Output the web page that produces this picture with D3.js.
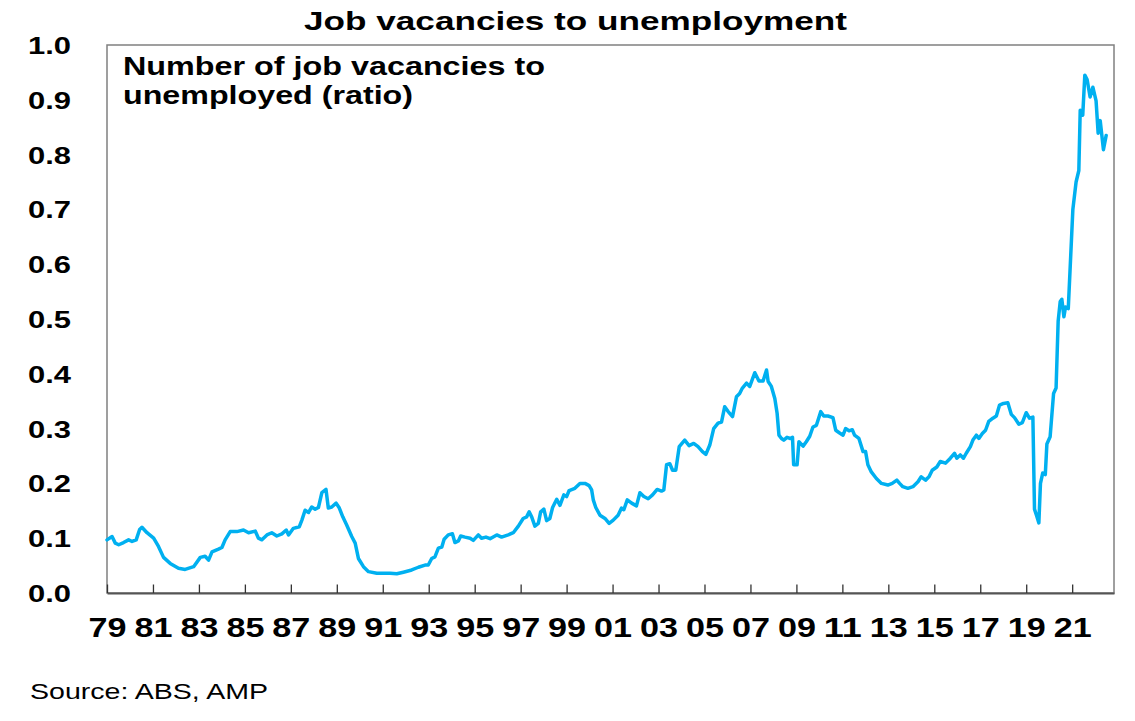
<!DOCTYPE html>
<html>
<head>
<meta charset="utf-8">
<script src="https://cdn.jsdelivr.net/npm/d3@7"></script>
<style>
  body { margin: 0; background: #fff; }
  text { font-family: "Liberation Sans", Arial, sans-serif; fill: #000; }
</style>
</head>
<body>
<div class="chart"></div>
<script>
// time position (decimal year as placed on the axis) and ratio
var years = [
  1979.00, 1979.22, 1979.36, 1979.51, 1979.72, 1979.94, 1980.09, 1980.27, 1980.42, 1980.52,
  1980.74, 1981.03, 1981.24, 1981.46, 1981.75, 1982.11, 1982.40, 1982.77, 1983.06, 1983.27,
  1983.42, 1983.57, 1983.85, 1984.00, 1984.14, 1984.36, 1984.65, 1984.94, 1985.16, 1985.45,
  1985.59, 1985.74, 1985.96, 1986.17, 1986.39, 1986.61, 1986.80, 1986.90, 1987.11, 1987.37,
  1987.48, 1987.62, 1987.77, 1987.91, 1988.06, 1988.20, 1988.35, 1988.53, 1988.63, 1988.78,
  1988.97, 1989.11, 1989.26, 1989.43, 1989.65, 1989.80, 1989.94, 1990.16, 1990.38, 1990.74,
  1991.03, 1991.32, 1991.61, 1991.90, 1992.26, 1992.55, 1992.84,
  1992.98, 1993.13, 1993.27, 1993.42, 1993.57, 1993.67, 1993.85, 1994.03, 1994.14, 1994.29,
  1994.39, 1994.58, 1994.80, 1994.94, 1995.16, 1995.30, 1995.49, 1995.67, 1995.96, 1996.17,
  1996.46, 1996.68, 1996.90, 1997.11, 1997.26, 1997.37, 1997.48, 1997.62, 1997.77, 1997.87,
  1998.01, 1998.13, 1998.27, 1998.39, 1998.57, 1998.71, 1998.88, 1999.00, 1999.11, 1999.36,
  1999.58, 1999.80, 1999.98, 2000.09, 2000.16, 2000.27, 2000.45, 2000.67, 2000.85, 2001.03,
  2001.24, 2001.39, 2001.49, 2001.64, 2001.83, 2002.04, 2002.19, 2002.36, 2002.55, 2002.74,
  2002.94, 2003.13, 2003.23, 2003.35, 2003.49, 2003.61, 2003.75, 2003.90, 2004.14, 2004.33,
  2004.53, 2004.72, 2004.91, 2005.06,
  2005.23, 2005.40, 2005.59, 2005.74, 2005.88, 2006.03, 2006.22, 2006.39, 2006.53, 2006.65,
  2006.83, 2006.97, 2007.19, 2007.37, 2007.55, 2007.70, 2007.77, 2007.91, 2008.06, 2008.16,
  2008.24, 2008.35, 2008.45, 2008.59, 2008.74, 2008.83, 2008.88, 2009.03, 2009.11, 2009.29,
  2009.43, 2009.58, 2009.72, 2009.87, 2010.06, 2010.19, 2010.37, 2010.59, 2010.71, 2010.88,
  2011.03, 2011.14, 2011.29, 2011.43, 2011.53, 2011.72, 2011.90, 2012.01, 2012.11, 2012.26,
  2012.48, 2012.70, 2012.98, 2013.17, 2013.37, 2013.49, 2013.63, 2013.85, 2014.07, 2014.29,
  2014.43, 2014.62, 2014.77, 2014.91, 2015.11, 2015.26, 2015.49, 2015.70, 2015.88, 2015.98,
  2016.13, 2016.27, 2016.39, 2016.57, 2016.68, 2016.83, 2016.94, 2017.09, 2017.23, 2017.37,
  2017.55, 2017.70, 2017.84, 2018.01, 2018.20, 2018.35, 2018.49, 2018.68, 2018.83, 2019.00,
  2019.14, 2019.29, 2019.36, 2019.46, 2019.55, 2019.62, 2019.72, 2019.83, 2019.90, 2020.04,
  2020.19, 2020.30, 2020.39, 2020.48, 2020.55, 2020.64, 2020.71, 2020.83, 2021.03, 2021.17,
  2021.29, 2021.35, 2021.46, 2021.55, 2021.65, 2021.78, 2021.90, 2022.04, 2022.13, 2022.22,
  2022.36, 2022.48
];

var ratio = [
  0.097, 0.103, 0.091, 0.088, 0.092, 0.097, 0.094, 0.097, 0.116, 0.120,
  0.110, 0.100, 0.085, 0.065, 0.054, 0.045, 0.043, 0.048, 0.065, 0.067,
  0.060, 0.075, 0.080, 0.083, 0.097, 0.112, 0.112, 0.115, 0.110, 0.113,
  0.100, 0.097, 0.106, 0.110, 0.104, 0.108, 0.115, 0.106, 0.118, 0.121,
  0.133, 0.151, 0.147, 0.157, 0.153, 0.156, 0.183, 0.189, 0.155, 0.157,
  0.164, 0.155, 0.139, 0.124, 0.103, 0.091, 0.063, 0.048, 0.039, 0.036,
  0.036, 0.036, 0.035, 0.038, 0.042, 0.047, 0.051,
  0.051, 0.063, 0.066, 0.082, 0.084, 0.098, 0.106, 0.108, 0.092, 0.095,
  0.104, 0.102, 0.100, 0.096, 0.106, 0.100, 0.102, 0.099, 0.106, 0.102,
  0.106, 0.110, 0.122, 0.136, 0.139, 0.148, 0.139, 0.122, 0.127, 0.148,
  0.153, 0.132, 0.136, 0.156, 0.171, 0.160, 0.179, 0.176, 0.187, 0.191,
  0.200, 0.200, 0.196, 0.188, 0.170, 0.156, 0.142, 0.136, 0.127, 0.133,
  0.142, 0.155, 0.152, 0.170, 0.164, 0.159, 0.183, 0.176, 0.172, 0.179,
  0.189, 0.186, 0.188, 0.234, 0.236, 0.224, 0.224, 0.267, 0.279, 0.269,
  0.273, 0.267, 0.258, 0.253,
  0.270, 0.300, 0.310, 0.312, 0.340, 0.331, 0.322, 0.358, 0.364, 0.374,
  0.383, 0.377, 0.402, 0.387, 0.387, 0.407, 0.386, 0.377, 0.355, 0.328,
  0.288, 0.282, 0.279, 0.284, 0.282, 0.284, 0.234, 0.234, 0.276, 0.268,
  0.276, 0.286, 0.303, 0.306, 0.331, 0.323, 0.323, 0.320, 0.297, 0.292,
  0.288, 0.300, 0.296, 0.298, 0.288, 0.282, 0.258, 0.258, 0.234, 0.221,
  0.209, 0.200, 0.197, 0.200, 0.206, 0.200, 0.194, 0.191, 0.194, 0.203,
  0.212, 0.206, 0.212, 0.224, 0.230, 0.240, 0.237, 0.246, 0.255, 0.246,
  0.252, 0.246, 0.255, 0.267, 0.279, 0.288, 0.282, 0.291, 0.297, 0.313,
  0.319, 0.323, 0.343, 0.346, 0.347, 0.326, 0.320, 0.308, 0.311, 0.329,
  0.319, 0.321, 0.153, 0.140, 0.128, 0.200, 0.219, 0.216, 0.272, 0.285,
  0.364, 0.374, 0.496, 0.532, 0.536, 0.504, 0.522, 0.519, 0.700, 0.750,
  0.771, 0.881, 0.872, 0.945, 0.937, 0.905, 0.923, 0.898, 0.839, 0.862,
  0.809, 0.835
];

var xTicks = [1979, 1981, 1983, 1985, 1987, 1989, 1991, 1993, 1995, 1997, 1999,
              2001, 2003, 2005, 2007, 2009, 2011, 2013, 2015, 2017, 2019, 2021];
var xTickLabels = ["79", "81", "83", "85", "87", "89", "91", "93", "95", "97", "99",
                   "01", "03", "05", "07", "09", "11", "13", "15", "17", "19", "21"];
var yTicks = [0, 0.1, 0.2, 0.3, 0.4, 0.5, 0.6, 0.7, 0.8, 0.9, 1.0];
var yTickLabels = ["0.0", "0.1", "0.2", "0.3", "0.4", "0.5", "0.6", "0.7", "0.8", "0.9", "1.0"];

drawChart();

function drawChart() {
  var w = 1135;
  var h = 721;
  // plot frame edges in pixels (window.top is taken, so no bare "top")
  var pLeft = 107, pRight = 1114, pTop = 45, pBottom = 593;

  var svg = d3.select(".chart").append("svg").attr("width", w).attr("height", h);

  var x = d3.scaleLinear().domain([1979, 2022.82]).range([pLeft, pRight]);
  var y = d3.scaleLinear().domain([0, 1]).range([pBottom, pTop]);

  // title
  svg.append("text")
     .attr("x", 304).attr("y", 30)
     .attr("font-size", 25.5).attr("font-weight", "bold")
     .attr("textLength", 543).attr("lengthAdjust", "spacingAndGlyphs")
     .text("Job vacancies to unemployment");

  // plot frame
  svg.append("rect")
     .attr("x", pLeft).attr("y", pTop)
     .attr("width", pRight - pLeft).attr("height", pBottom - pTop)
     .attr("fill", "none").attr("stroke", "#808080").attr("stroke-width", 1.5);

  // x axis: ticks pointing into the plot, labels under it
  var xAxis = d3.axisBottom(x)
     .tickValues(xTicks)
     .tickSizeInner(-8.5).tickSizeOuter(0)
     .tickFormat(function(d, i) { return xTickLabels[i]; });

  var gx = svg.append("g").attr("transform", "translate(0," + pBottom + ")").call(xAxis);
  gx.select(".domain").attr("stroke", "#555").attr("stroke-width", 1.8);
  gx.selectAll(".tick line").attr("stroke", "#333").attr("stroke-width", 1.3);
  gx.selectAll(".tick text")
     .attr("y", 44).attr("dy", 0)
     .attr("font-size", 28).attr("font-weight", "bold")
     .attr("font-family", "Liberation Sans, Arial, sans-serif")
     .attr("fill", "#000")
     .attr("textLength", 38).attr("lengthAdjust", "spacingAndGlyphs");

  // y axis: labels only
  var yAxis = d3.axisLeft(y)
     .tickValues(yTicks)
     .tickSize(0)
     .tickFormat(function(d, i) { return yTickLabels[i]; });

  var gy = svg.append("g").attr("transform", "translate(" + pLeft + ",0)").call(yAxis);
  gy.select(".domain").remove();
  gy.selectAll(".tick text")
     .attr("x", -79).attr("dy", "0.36em")
     .attr("text-anchor", "start")
     .attr("font-size", 23.5).attr("font-weight", "bold")
     .attr("font-family", "Liberation Sans, Arial, sans-serif")
     .attr("fill", "#000")
     .attr("textLength", 43).attr("lengthAdjust", "spacingAndGlyphs");

  // series
  var points = years.map(function(d, i) { return [d, ratio[i]]; });

  var line = d3.line()
     .x(function(d) { return x(d[0]); })
     .y(function(d) { return y(d[1]); });

  svg.append("path")
     .datum(points)
     .attr("d", line)
     .attr("fill", "none")
     .attr("stroke", "#00b0f0")
     .attr("stroke-width", 3.5)
     .attr("stroke-linejoin", "round")
     .attr("stroke-linecap", "round");

  // in-plot label
  svg.append("text")
     .attr("x", 123).attr("y", 75)
     .attr("font-size", 25.6).attr("font-weight", "bold")
     .attr("textLength", 422).attr("lengthAdjust", "spacingAndGlyphs")
     .text("Number of job vacancies to");

  svg.append("text")
     .attr("x", 123).attr("y", 104)
     .attr("font-size", 25.6).attr("font-weight", "bold")
     .attr("textLength", 290).attr("lengthAdjust", "spacingAndGlyphs")
     .text("unemployed (ratio)");

  // source note
  svg.append("text")
     .attr("x", 30).attr("y", 699)
     .attr("font-size", 21.5)
     .attr("textLength", 238).attr("lengthAdjust", "spacingAndGlyphs")
     .text("Source: ABS, AMP");
}
</script>
</body>
</html>
